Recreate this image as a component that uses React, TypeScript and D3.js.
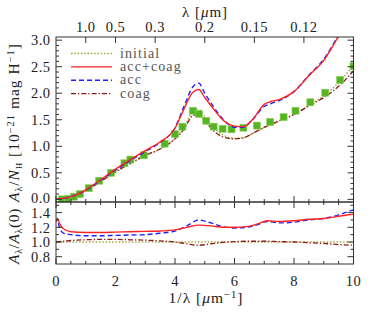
import React, { useRef, useEffect } from "react";
import * as d3 from "d3";

// 1/lambda grid for model curves (top panel)
const modelX = [0, 0.5, 1.0, 1.5, 2.0, 2.5, 3.0, 3.5, 4.0, 4.3, 4.6, 4.8, 5.0, 5.3, 5.6, 6.0, 6.3, 6.6, 7.0, 7.2, 7.5, 8.0, 8.5, 9.0, 9.5, 10.0];
const initialY = [0, 0.04, 0.16, 0.33, 0.51, 0.67, 0.82, 0.95, 1.15, 1.35, 1.66, 1.69, 1.56, 1.35, 1.22, 1.15, 1.16, 1.24, 1.35, 1.4, 1.47, 1.6, 1.77, 1.95, 2.2, 2.53];
const accCoagY = [0, 0.05, 0.18, 0.37, 0.57, 0.75, 0.92, 1.08, 1.34, 1.7, 2.02, 2.07, 1.92, 1.7, 1.5, 1.38, 1.37, 1.5, 1.79, 1.84, 1.88, 2.03, 2.33, 2.62, 3.07, 3.45];
const accY = [0, 0.05, 0.17, 0.36, 0.55, 0.73, 0.9, 1.07, 1.35, 1.75, 2.12, 2.19, 2.0, 1.74, 1.52, 1.36, 1.36, 1.5, 1.75, 1.8, 1.86, 2.03, 2.34, 2.64, 3.1, 3.6];
const coagY = [0, 0.04, 0.16, 0.34, 0.52, 0.68, 0.83, 0.95, 1.14, 1.32, 1.58, 1.6, 1.49, 1.29, 1.18, 1.14, 1.16, 1.24, 1.36, 1.41, 1.48, 1.6, 1.76, 1.92, 2.13, 2.42];

// observed extinction (green squares)
const obsX = [0.2, 0.4, 0.6, 0.8, 1.1, 1.45, 1.85, 2.3, 2.5, 2.95, 3.65, 4.0, 4.25, 4.6, 4.8, 5.05, 5.3, 5.6, 5.9, 6.3, 6.75, 7.2, 7.65, 8.05, 8.55, 9.05, 9.55, 10.0];
const obsY = [0.0, 0.01, 0.05, 0.1, 0.21, 0.35, 0.5, 0.68, 0.75, 0.83, 1.05, 1.23, 1.37, 1.67, 1.61, 1.48, 1.37, 1.33, 1.32, 1.35, 1.39, 1.46, 1.55, 1.67, 1.83, 2.01, 2.25, 2.51];

// ratio panel
const ratioX = [0, 0.05, 0.1, 0.25, 0.5, 1, 1.5, 2, 2.5, 3, 3.5, 4, 4.4, 4.8, 5.2, 5.6, 6, 6.4, 6.8, 7.1, 7.5, 8, 8.5, 9, 9.5, 10];
const ratioAccCoag = [1.28, 1.32, 1.27, 1.18, 1.14, 1.13, 1.13, 1.135, 1.14, 1.145, 1.15, 1.165, 1.2, 1.23, 1.22, 1.2, 1.2, 1.21, 1.25, 1.29, 1.28, 1.29, 1.31, 1.32, 1.35, 1.38];
const ratioAcc = [1.28, 1.32, 1.22, 1.12, 1.1, 1.085, 1.085, 1.09, 1.095, 1.1, 1.12, 1.15, 1.22, 1.3, 1.26, 1.21, 1.19, 1.2, 1.24, 1.28, 1.26, 1.27, 1.3, 1.32, 1.37, 1.44];
const ratioCoag = [1.0, 1.0, 1.005, 1.01, 1.02, 1.03, 1.035, 1.035, 1.03, 1.025, 1.015, 1.0, 0.975, 0.955, 0.975, 0.995, 1.005, 1.01, 1.01, 1.01, 1.005, 1.0, 0.99, 0.98, 0.965, 0.955];
const ratioInitialX = [0, 10];
const ratioInitial = [1.0, 1.0];

const xTicks = [0, 2, 4, 6, 8, 10];
const lambdaTicks = [1.0, 0.5, 0.3, 0.2, 0.15, 0.12];
const lambdaLabels = ["1.0", "0.5", "0.3", "0.2", "0.15", "0.12"];
const topYTicks = [0, 0.5, 1.0, 1.5, 2.0, 2.5, 3.0];
const botYTicks = [0.8, 1.0, 1.2, 1.4];

const legendLabels = ["initial", "acc+coag", "acc", "coag"];

const FONT = "Liberation Serif, Times New Roman, Times, serif";

export default function App() {
  const svgRef = useRef<SVGSVGElement>(null);

  useEffect(() => {
    if (!svgRef.current) return;
    const svg = d3.select(svgRef.current);
    svg.selectAll("*").remove();

    const left = 56, right = 353.5;
    const topY0 = 37, midY = 202, botY1 = 264;

    const x = d3.scaleLinear().domain([0, 10]).range([left, right]);
    const yTop = d3.scaleLinear().domain([-0.05, 3.06]).range([midY, topY0]);
    const yBot = d3.scaleLinear().domain([0.7, 1.545]).range([botY1, midY]);

    const styles = [
      { color: "#a5a83a", dash: "1.5,1.8", width: 1.4 },
      { color: "#ff2222", dash: null, width: 1.4 },
      { color: "#2020ff", dash: "5,3", width: 1.4 },
      { color: "#8b1a1a", dash: "5,2,1.3,2", width: 1.3 },
    ];

    const defs = svg.append("defs");
    defs.append("clipPath").attr("id", "clipTop").append("rect")
      .attr("x", left).attr("y", topY0).attr("width", right - left).attr("height", midY - topY0);
    defs.append("clipPath").attr("id", "clipBot").append("rect")
      .attr("x", left).attr("y", midY).attr("width", right - left).attr("height", botY1 - midY);

    const drawLine = (g: any, xs: number[], ys: number[], y: any, s: any) => {
      const line = d3.line<number>()
        .x((_, i) => x(xs[i]))
        .y((d) => y(d))
        .curve(d3.curveMonotoneX);
      g.append("path")
        .attr("d", line(ys))
        .attr("fill", "none")
        .attr("stroke", s.color)
        .attr("stroke-width", s.width)
        .attr("stroke-dasharray", s.dash);
    };

    // top panel curves
    const gt = svg.append("g").attr("clip-path", "url(#clipTop)");
    drawLine(gt, modelX, initialY, yTop, styles[0]);
    drawLine(gt, modelX, coagY, yTop, styles[3]);
    gt.selectAll(".obs")
      .data(obsY)
      .join("rect")
      .attr("x", (_, i) => x(obsX[i]) - 3.5)
      .attr("y", (d) => yTop(d) - 3.5)
      .attr("width", 7)
      .attr("height", 7)
      .attr("fill", "#55b421")
      .attr("stroke", "#8fd060")
      .attr("stroke-width", 0.6);
    drawLine(gt, modelX, accY, yTop, styles[2]);
    drawLine(gt, modelX, accCoagY, yTop, styles[1]);

    // bottom panel curves
    const gb = svg.append("g").attr("clip-path", "url(#clipBot)");
    drawLine(gb, ratioInitialX, ratioInitial, yBot, styles[0]);
    drawLine(gb, ratioX, ratioCoag, yBot, styles[3]);
    drawLine(gb, ratioX, ratioAcc, yBot, styles[2]);
    drawLine(gb, ratioX, ratioAccCoag, yBot, styles[1]);

    // legend
    const lg = svg.append("g");
    legendLabels.forEach((lab, i) => {
      const yy = 53.5 + i * 13.4;
      lg.append("line")
        .attr("x1", 71).attr("x2", 112).attr("y1", yy).attr("y2", yy)
        .attr("stroke", styles[i].color)
        .attr("stroke-width", styles[i].width)
        .attr("stroke-dasharray", styles[i].dash);
      lg.append("text")
        .attr("x", 120).attr("y", yy + 4)
        .attr("font-family", FONT).attr("font-size", 14)
        .attr("letter-spacing", 1.1)
        .attr("fill", "#555")
        .text(lab);
    });

    // frames
    const axisColor = "#333";
    const ax = svg.append("g").attr("stroke", axisColor).attr("stroke-width", 1).attr("fill", "none");
    ax.append("rect").attr("x", left).attr("y", topY0).attr("width", right - left).attr("height", midY - topY0);
    ax.append("rect").attr("x", left).attr("y", midY).attr("width", right - left).attr("height", botY1 - midY);

    const tick = (x1: number, y1: number, x2: number, y2: number) =>
      ax.append("line").attr("x1", x1).attr("y1", y1).attr("x2", x2).attr("y2", y2);

    // x ticks (major every 2, minor every 0.5)
    const xMinor = d3.range(0, 10.01, 0.5);
    xMinor.forEach((v) => {
      const major = xTicks.includes(v);
      const len = major ? 6 : 3;
      const px = x(v);
      tick(px, midY, px, midY - len);
      tick(px, midY, px, midY + len);
      tick(px, botY1, px, botY1 - len);
    });
    // top lambda ticks
    lambdaTicks.forEach((l) => {
      const px = x(1 / l);
      tick(px, topY0, px, topY0 + 6);
    });

    // y ticks top panel
    d3.range(0, 3.001, 0.1).forEach((v) => {
      const major = Math.abs(v * 2 - Math.round(v * 2)) < 1e-6;
      const len = major ? 6 : 3;
      const py = yTop(v);
      tick(left, py, left + len, py);
      tick(right, py, right - len, py);
    });
    // y ticks bottom panel
    d3.range(0.8, 1.501, 0.1).forEach((v) => {
      const major = botYTicks.some((t) => Math.abs(t - v) < 1e-6);
      const len = major ? 6 : 3;
      const py = yBot(v);
      tick(left, py, left + len, py);
      tick(right, py, right - len, py);
    });

    const txt = svg.append("g").attr("font-family", FONT).attr("font-size", 14.5)
      .attr("letter-spacing", 0.5).attr("fill", "#222");

    topYTicks.forEach((v) => {
      txt.append("text").attr("x", 50.5).attr("y", yTop(v) + (v === 0 ? 3.5 : 4.8)).attr("text-anchor", "end").text(v.toFixed(1));
    });
    botYTicks.forEach((v) => {
      txt.append("text").attr("x", 50.5).attr("y", yBot(v) + 5.2).attr("text-anchor", "end").text(v.toFixed(1));
    });
    xTicks.forEach((v) => {
      txt.append("text").attr("x", x(v)).attr("y", 286).attr("text-anchor", "middle").text(String(v));
    });
    lambdaTicks.forEach((l, i) => {
      txt.append("text").attr("x", x(1 / l)).attr("y", 32).attr("text-anchor", "middle").text(lambdaLabels[i]);
    });

    // x titles
    const bt = txt.append("text").attr("x", 206).attr("y", 303).attr("text-anchor", "middle")
      .attr("font-size", 15.5).attr("letter-spacing", 1);
    bt.append("tspan").text("1/λ [");
    bt.append("tspan").attr("font-style", "italic").text("μ");
    bt.append("tspan").text("m");
    bt.append("tspan").attr("dy", -5).attr("font-size", 10.5).text("−1");
    bt.append("tspan").attr("dy", 5).text("]");

    const tt = txt.append("text").attr("x", 205).attr("y", 16.5).attr("text-anchor", "middle")
      .attr("font-size", 15).attr("letter-spacing", 1);
    tt.append("tspan").text("λ [");
    tt.append("tspan").attr("font-style", "italic").text("μ");
    tt.append("tspan").text("m]");

    // y titles
    const yt = txt.append("text").attr("transform", `translate(19,${(topY0 + midY) / 2 + 3}) rotate(-90)`)
      .attr("text-anchor", "middle").attr("font-size", 15.5).attr("letter-spacing", 1);
    yt.append("tspan").attr("font-style", "italic").text("A");
    yt.append("tspan").attr("dy", 3).attr("font-size", 10).text("λ");
    yt.append("tspan").attr("dy", -3).text("/");
    yt.append("tspan").attr("font-style", "italic").text("N");
    yt.append("tspan").attr("dy", 3).attr("font-size", 8.5).text("H");
    yt.append("tspan").attr("dy", -3).text(" [10");
    yt.append("tspan").attr("dy", -5).attr("font-size", 10.5).text("−21");
    yt.append("tspan").attr("dy", 5).text(" mag H");
    yt.append("tspan").attr("dy", -5).attr("font-size", 10.5).text("−1");
    yt.append("tspan").attr("dy", 5).text("]");

    const yb = txt.append("text").attr("transform", `translate(19,236) rotate(-90)`)
      .attr("text-anchor", "middle").attr("font-size", 15.5).attr("letter-spacing", 0.6);
    yb.append("tspan").attr("font-style", "italic").text("A");
    yb.append("tspan").attr("dy", 3).attr("font-size", 10).text("λ");
    yb.append("tspan").attr("dy", -3).text("/");
    yb.append("tspan").attr("font-style", "italic").text("A");
    yb.append("tspan").attr("dy", 3).attr("font-size", 10).text("λ");
    yb.append("tspan").attr("dy", -3).text("(0)");
  }, []);

  return (
    <svg
      ref={svgRef}
      width={374}
      height={312}
      style={{ position: "absolute", left: 0, top: 0, background: "#fff" }}
    />
  );
}
